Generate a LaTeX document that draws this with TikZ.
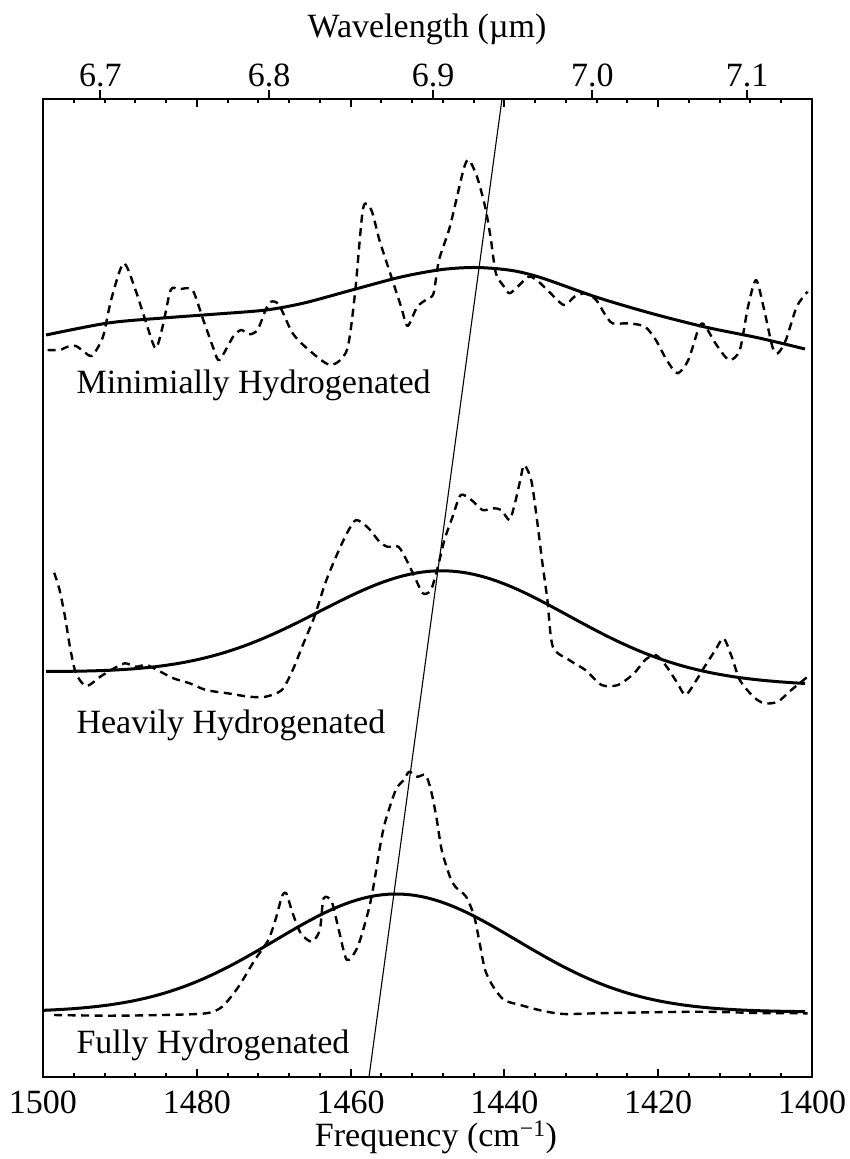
\documentclass[tikz,border=0pt]{standalone}
\usepackage{fontspec}
\setmainfont{Liberation Serif}

\begin{document}
\begin{tikzpicture}[x=1pt,y=-1pt,font=\fontsize{34}{40}\selectfont,
  fitcurve/.style={line width=3pt,line join=round},
  datacurve/.style={line width=2.4pt,dash pattern=on 8pt off 5.5pt,line join=round},
  tickmark/.style={line width=2pt}]
\useasboundingbox (0,0) rectangle (849,1159);

\draw [line width=2.8pt] (43,99) rectangle (812,1077);

\foreach \f in {1500,1496,...,1400} {
  \draw [tickmark] ({43+(1500-\f)*7.69},1077) -- ++(0,-4);
  \draw [tickmark] ({43+(1500-\f)*7.69},99) -- ++(0,4);
}
\foreach \f in {1500,1480,...,1400} {
  \draw [tickmark] ({43+(1500-\f)*7.69},1077) -- ++(0,-8);
  \draw [tickmark] ({43+(1500-\f)*7.69},99) -- ++(0,8);
  \node (f\f) [anchor=base] at ({43+(1500-\f)*7.69},1113) {\f};
}
\foreach \l in {6.7,6.8,6.9,7.0,7.1} {
  \draw [tickmark] ({43+(1500-10000/\l)*7.69},99) -- ++(0,-9);
  \node (w\l) [anchor=base] at ({43+(1500-10000/\l)*7.69},86) {\l};
}

\node (wavelab) [anchor=base] at (427,37) {Wavelength (µm)};
\node (freqlab) [anchor=base] at (436,1146) {Frequency (cm\textsuperscript{−1})};

\coordinate (slanttop) at (502,99);
\coordinate (slantbot) at (369,1077);
\draw [line width=1.1pt] (slanttop) -- (slantbot);

\draw [fitcurve] plot[smooth] coordinates {(46,335) (108,323) (163,318) (217,314)
  (266,310) (304,303) (352,290) (401,277) (442,269.5) (477,267.5) (512,270.5) (542,278)
  (596,297) (650,313) (705,327) (759,338) (805,349)};
\draw [datacurve] plot[smooth,tension=0.45] coordinates {(47.7,350) (59.6,350)
  (67.8,346.7) (75.9,346) (84,351.7) (92.1,355.7) (103,336.7) (111.1,300)
  (123.6,263.3) (135.5,290) (146.3,323.3) (155.6,348.3) (162.6,326.7) (170.7,290)
  (178.9,289.3) (192.4,290) (203.3,320) (214.1,350) (219.5,360) (233.1,336.7)
  (241.2,330) (249.3,334.3) (257.5,330) (265.6,310) (271,301.7) (279.1,305)
  (292.7,333.3) (308.9,350) (330.6,365) (346.9,350) (355,293.3) (363.1,208.3)
  (371.3,210) (379.4,240) (390.2,273.3) (401.1,306.7) (407.6,326) (417.3,306.7)
  (428.2,298.3) (433.6,293.3) (439,260) (449.9,226.7) (463.4,170) (468.8,160)
  (477,176.7) (485.1,206.7) (490.5,236.7) (495.9,273.3) (504.1,286.7) (509.5,293.3)
  (517.6,286.7) (528.5,276.7) (536.6,280) (547.4,290) (563.7,305) (574.5,296.7)
  (585.4,293.3) (596.2,300) (604.3,313.3) (612.5,323.3) (628.7,323.3) (645,326.7)
  (655.8,340) (666.7,360) (677.5,373.3) (688.3,360) (699.2,326.7) (704.6,325)
  (715.4,343.3) (729,360) (739.8,350) (748,306.7) (756.1,280) (764.2,310)
  (772.4,346.7) (777.8,353.3) (785.9,340) (796.7,306.7) (807.6,291.7)};
\node (minlab) [anchor=base west] at (73,393) {Minimially Hydrogenated};

\draw [fitcurve] plot[domain=46:805,samples=120]
  (\x,{672+(\x-46)*13/759-108*exp(-0.5*((\x-444)/124)^2)});
\draw [datacurve] plot[smooth,tension=0.45] coordinates {(54.2,572.7) (59.6,590)
  (65,616.7) (70.5,650) (75.9,673.3) (84,685) (89.4,685) (100.3,676.7) (111.1,670)
  (124.7,663.3) (135.5,666.7) (146.3,665) (157.2,670) (173.4,678.3) (189.7,683.3)
  (206,690) (227.6,693.3) (249.3,696.7) (265.6,696.7) (281.8,690) (292.7,670)
  (303.5,643.3) (314.4,616.7) (325.2,583.3) (336,556.7) (346.9,533.3) (356.1,520)
  (368.6,528.3) (379.4,541.7) (387.5,546.7) (398.4,546.7) (406.5,560) (414.6,576.7)
  (422.8,593.3) (430.9,590) (437.9,566.7) (444.4,540) (452.6,516.7) (460.7,495)
  (471.5,500) (482.4,510) (493.2,508.3) (501.4,510) (509.5,520) (514.9,503.3)
  (520.3,480) (524.1,465) (531.2,480) (536.6,516.7) (542,560) (547.4,600)
  (552.8,646.7) (569.1,660) (585.4,670) (601.6,685) (617.9,685) (634.1,673.3)
  (645,660) (655.8,655) (666.7,666.7) (677.5,683.3) (685.6,695) (696.5,680)
  (704.6,666.7) (715.4,650) (723.6,638.3) (731.7,656.7) (739.8,680) (753.4,696.7)
  (764.2,703.3) (777.8,701.7) (791.3,690) (807.6,676.7)};
\node (heavylab) [anchor=base west] at (73,733) {Heavily Hydrogenated};

\draw [fitcurve] plot[domain=43:805,samples=120]
  (\x,{1012-118*exp(-0.5*((\x-396)/121)^2)});
\draw [datacurve] plot[smooth,tension=0.45] coordinates {(54.2,1015) (108.4,1015.7)
  (162.6,1015) (206,1013.3) (222.2,1006.7) (238.5,986.7) (254.7,960) (268.3,940)
  (276.4,916.7) (281.8,896.7) (286.2,893.3) (292.7,913.3) (300.8,933.3) (311.7,941.7)
  (319.8,930) (323.6,898.3) (331.7,901.7) (338.8,930) (346.9,960) (357.7,946.7)
  (368.6,910) (374,883.3) (379.4,850) (384.8,823.3) (395.7,790) (403.8,780)
  (409.2,771.7) (417.3,776.7) (425.5,775) (430.9,790) (436.3,816.7) (441.7,850)
  (449.9,876.7) (455.3,886.7) (466.1,896.7) (474.3,916.7) (479.7,943.3) (485.1,970)
  (493.2,986.7) (504.1,1000) (520.3,1005) (542,1010.7) (563.7,1014) (596.2,1013.3)
  (650.4,1012.3) (704.6,1011.7) (758.8,1013) (807.6,1013.3)};
\node (fullylab) [anchor=base west] at (73,1053) {Fully Hydrogenated};

\end{tikzpicture}
\end{document}
